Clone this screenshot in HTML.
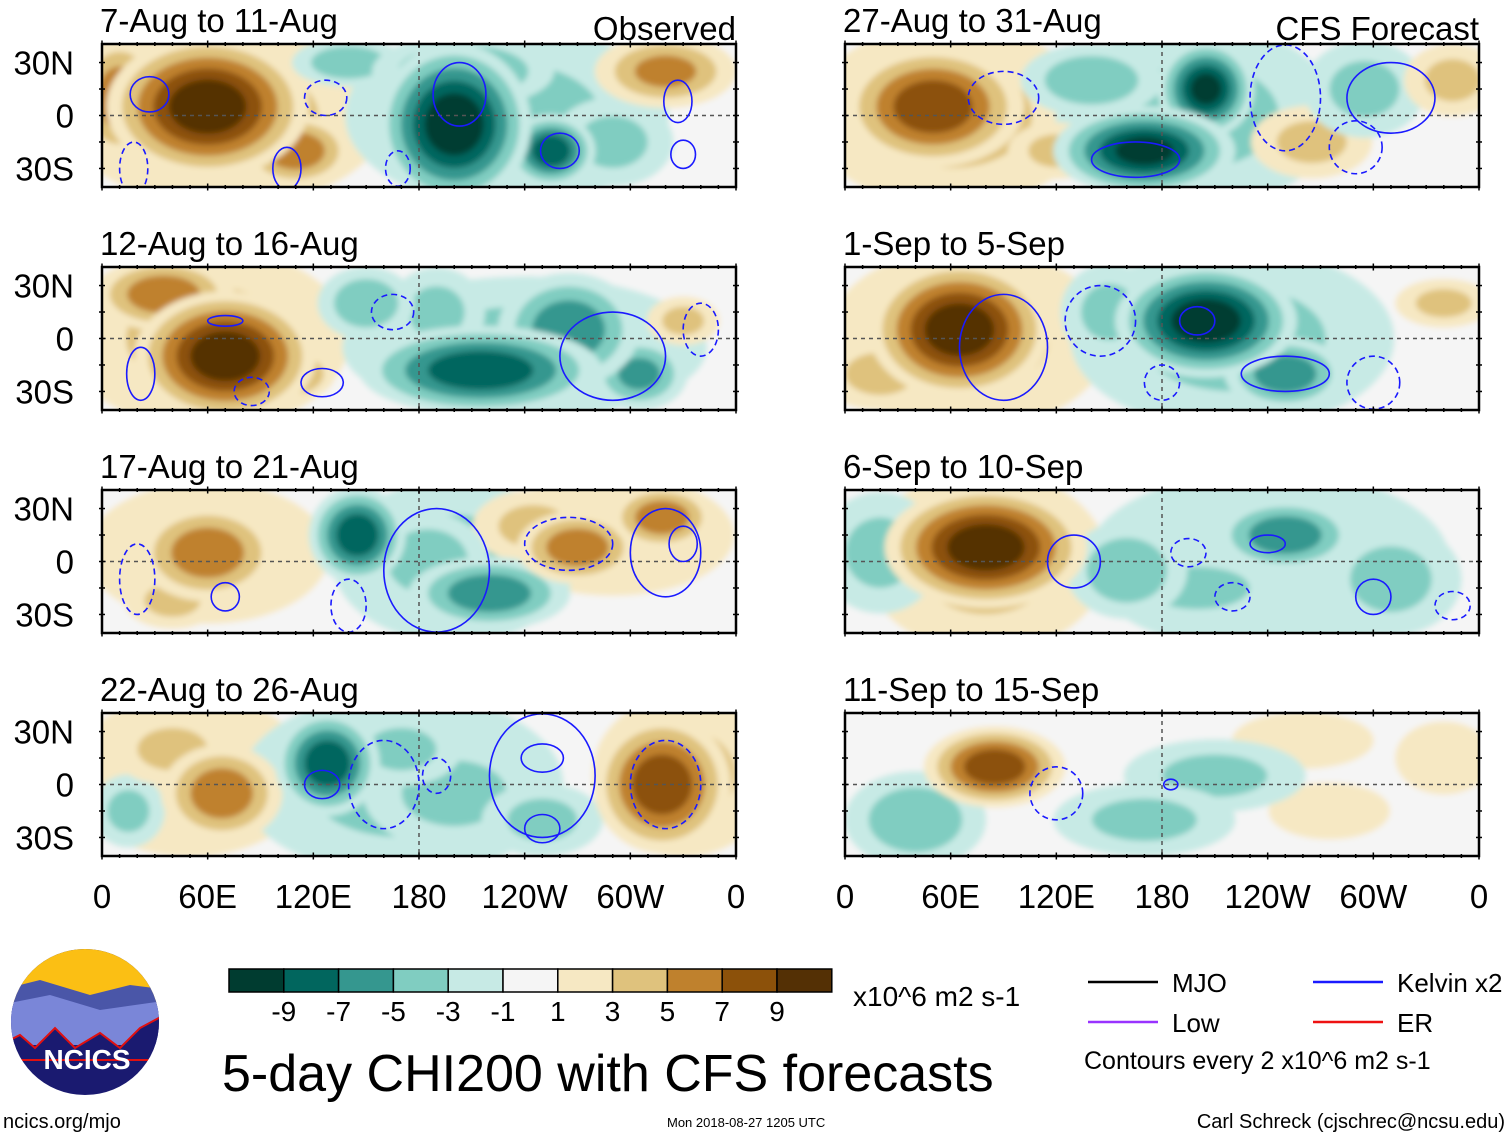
<!DOCTYPE html>
<html><head><meta charset="utf-8">
<style>
body{margin:0;background:#fff;font-family:"Liberation Sans",sans-serif}
svg text{font-family:"Liberation Sans",sans-serif}
</style></head>
<body>
<svg id="fig" width="1510" height="1137" viewBox="0 0 1510 1137" xmlns="http://www.w3.org/2000/svg">
<defs>
<filter id="blur" x="-20%" y="-20%" width="140%" height="140%"><feGaussianBlur stdDeviation="3"/></filter>
</defs>
<g id="panels"></g>
<g id="footer"></g>
</svg>
<script>
// ---- data ----
const panelTitles = ["7-Aug to 11-Aug","12-Aug to 16-Aug","17-Aug to 21-Aug","22-Aug to 26-Aug","27-Aug to 31-Aug","1-Sep to 5-Sep","6-Sep to 10-Sep","11-Sep to 15-Sep"];
// blobs per panel: [lon, lat, rxDeg, ryDeg, value]
const blobs0 = [[70,0,80,45,3],[230,0,80,45,-3],[60,5,50,35,10],[10,10,22,30,6],[110,-20,28,18,6],[200,-5,38,40,-10],[255,-20,22,18,-8],[205,25,45,18,-5],[290,-15,30,22,-3],[320,25,35,18,5],[140,30,28,12,-4]];
const blobs1 = [[60,0,70,45,3],[240,-5,90,35,-3],[70,-10,45,32,10],[35,25,35,18,6],[105,-20,24,14,6],[215,-18,60,22,-8],[265,5,35,28,-6],[150,20,24,18,-4],[190,15,24,22,-3],[330,10,18,12,3],[305,-20,24,18,-5]];
const blobs2 = [[200,0,60,40,-3],[60,5,60,35,2],[290,15,60,30,2],[145,15,24,24,-8],[220,-18,40,18,-6],[185,0,30,24,-4],[60,5,35,24,6],[270,8,30,18,6],[318,25,26,16,6],[40,-22,24,14,3],[245,20,30,18,3]];
const blobs3 = [[170,0,80,45,-3],[330,5,45,40,3],[50,5,60,40,2],[128,12,26,26,-8],[200,-5,45,28,-3],[318,0,34,34,8],[68,-5,30,24,6],[250,-20,30,18,-3],[15,-15,18,18,-3],[40,20,30,18,3],[170,20,30,18,-3]];
const blobs4 = [[60,0,70,45,3],[200,0,70,45,-3],[50,5,45,30,8],[205,15,24,24,-9],[170,-20,45,22,-9],[265,-15,30,18,3],[295,15,30,24,-3],[140,20,35,18,-4],[345,20,24,18,3],[120,-20,24,14,3]];
const blobs5 = [[70,0,70,45,3],[220,0,80,45,-3],[65,5,45,34,10],[205,10,45,28,-10],[250,-20,30,18,-6],[20,-20,30,18,3],[150,15,24,24,-3],[340,20,24,12,3]];
const blobs6 = [[80,0,60,45,3],[240,0,90,45,-2],[80,8,50,30,10],[250,15,35,18,-6],[160,-5,30,24,-4],[200,-15,45,18,-3],[310,-10,35,28,-3],[20,5,30,30,-3]];
const blobs7 = [[85,10,35,20,8],[40,-20,35,24,-4],[210,5,45,18,-3],[170,-20,45,18,-3],[275,-15,30,14,2],[340,15,24,18,2],[260,25,35,14,2]];
const allBlobs = [blobs0,blobs1,blobs2,blobs3,blobs4,blobs5,blobs6,blobs7];
// contours per panel: [lon, lat, rxDeg, ryDeg, dashed(1)/solid(0)]
const cont0 = [[27,12,11,10,0],[203,12,15,18,0],[260,-20,11,10,0],[327,8,8,12,0],[330,-22,7,8,0],[105,-30,8,12,0],[18,-30,8,15,1],[127,10,12,10,1],[168,-30,7,10,1]];
const cont1 = [[70,10,10,3,0],[22,-20,8,15,0],[290,-10,30,25,0],[165,15,12,10,1],[340,5,10,15,1],[85,-30,10,8,1],[125,-25,12,8,0]];
const cont2 = [[190,-5,30,35,0],[320,5,20,25,0],[330,10,8,10,0],[70,-20,8,8,0],[265,10,25,15,1],[140,-25,10,15,1],[20,-10,10,20,1]];
const cont3 = [[250,5,30,35,0],[250,15,12,8,0],[250,-25,10,8,0],[160,0,20,25,1],[190,5,8,10,1],[320,0,20,25,1],[125,0,10,8,0]];
const cont4 = [[310,10,25,20,0],[165,-25,25,10,0],[250,10,20,30,1],[290,-18,15,15,1],[90,10,20,15,1]];
const cont5 = [[90,-5,25,30,0],[200,10,10,8,0],[250,-20,25,10,0],[145,10,20,20,1],[300,-25,15,15,1],[180,-25,10,10,1]];
const cont6 = [[130,0,15,15,0],[240,10,10,5,0],[300,-20,10,10,0],[195,5,10,8,1],[220,-20,10,8,1],[345,-25,10,8,1]];
const cont7 = [[120,-5,15,15,1],[185,0,4,3,0]];
const allConts = [cont0,cont1,cont2,cont3,cont4,cont5,cont6,cont7];
const colors = ["#003c30","#01665e","#35978f","#80cdc1","#c7eae5","#f5f5f5","#f6e8c3","#dfc27d","#bf812d","#8c510a","#543005"];
const cbLabels = ["-9","-7","-5","-3","-1","1","3","5","7","9"];
const lonLabels = ["0","60E","120E","180","120W","60W","0"];
const latLabels = ["30N","0","30S"];

// ---- layout ----
const NS="http://www.w3.org/2000/svg";
const colX=[102,845], PW=634, rowY=[44,267,490,713], PH=143;
function el(tag,attrs,parent){const e=document.createElementNS(NS,tag);for(const k in attrs)e.setAttribute(k,attrs[k]);parent.appendChild(e);return e;}
const panelsG=document.getElementById('panels');
allBlobs.forEach((bl,i)=>{
  const x0=colX[Math.floor(i/4)], y0=rowY[i%4];
  const lonX=l=>x0+l/360*PW, latY=la=>y0+PH/2-la/81*PH;
  const sx=PW/360*1.15, sy=PH/81*1.15;
  const g=el('g',{},panelsG);
  
  
  const cp=el('clipPath',{id:'cp'+i},g);
  el('rect',{x:x0,y:y0,width:PW,height:PH},cp);
  const inner=el('g',{'clip-path':'url(#cp'+i+')'},g);
  el('rect',{x:x0,y:y0,width:PW,height:PH,fill:'#f5f5f5'},inner);
  const f=el('g',{filter:'url(#blur)'},inner);
  el('rect',{x:x0-20,y:y0-20,width:PW+40,height:PH+40,fill:'#f5f5f5'},f);
  const sorted=bl.slice().sort((a,b)=>Math.abs(a[4])-Math.abs(b[4]));
  sorted.forEach(b=>{
    const v=b[4], a=Math.abs(v), s=Math.sign(v);
    [1,3,5,7,9].forEach((t,k)=>{
      if(a<t) return;
      const fac=1-0.85*(t-1)/(a+1);
      const ci=5+s*(k+1);
      const e=el('ellipse',{cx:lonX(b[0]),cy:latY(b[1]),rx:b[2]*sx*fac,ry:b[3]*sy*fac,fill:colors[ci]},f);
      
      
    });
  });
  el('line',{x1:x0,x2:x0+PW,y1:latY(0),y2:latY(0),stroke:'#555','stroke-dasharray':'4,4','stroke-width':1.5},inner);
  el('line',{x1:lonX(180),x2:lonX(180),y1:y0,y2:y0+PH,stroke:'#555','stroke-dasharray':'4,4','stroke-width':1.5},inner);
  allConts[i].forEach(c=>{
    const e=el('ellipse',{cx:lonX(c[0]),cy:latY(c[1]),rx:c[2]*PW/360,ry:c[3]*PH/81,fill:'none',stroke:'#1a1aff','stroke-width':1.6},inner);
    if(c[4]) e.setAttribute('stroke-dasharray','6,4');
    
    
  });
  el('rect',{x:x0,y:y0,width:PW,height:PH,fill:'none',stroke:'#000','stroke-width':2.5},g);
  for(let l=0;l<=360;l+=10){const L=l%60==0?7:4;
    el('line',{x1:lonX(l),x2:lonX(l),y1:y0-L/2,y2:y0+L/2,stroke:'#000','stroke-width':1.5},g);
    el('line',{x1:lonX(l),x2:lonX(l),y1:y0+PH-L/2,y2:y0+PH+L/2,stroke:'#000','stroke-width':1.5},g);}
  [-30,-15,0,15,30].forEach(la=>{
    el('line',{x1:x0-3,x2:x0+3,y1:latY(la),y2:latY(la),stroke:'#000','stroke-width':1.5},g);
    el('line',{x1:x0+PW-3,x2:x0+PW+3,y1:latY(la),y2:latY(la),stroke:'#000','stroke-width':1.5},g);});
  const t=el('text',{x:x0-2,y:y0-12,'font-size':33},g);t.textContent=panelTitles[i];
  
  if(i==0||i==4){const tt=el('text',{x:x0+PW,y:y0-4,'font-size':33,'text-anchor':'end'},g);tt.textContent=i==0?'Observed':'CFS Forecast';
    }
  if(i<4){[30,0,-30].forEach((la,k)=>{const lt=el('text',{x:74,y:latY(la)+12,'font-size':33,'text-anchor':'end'},g);lt.textContent=latLabels[k];
    });}
  if(i%4==3){lonLabels.forEach((lb,k)=>{const lt=el('text',{x:lonX(k*60),y:908,'font-size':33,'text-anchor':'middle'},g);lt.textContent=lb;
    });}
});
// footer
const F=document.getElementById('footer');
const cbw=54.8;
colors.forEach((c,k)=>{const r=el('rect',{x:229+k*cbw,y:969,width:cbw,height:23,fill:c,stroke:'#000','stroke-width':1.5},F);
  });
cbLabels.forEach((lb,k)=>{const t=el('text',{x:229+(k+1)*cbw,y:1021,'font-size':28,'text-anchor':'middle'},F);t.textContent=lb;
  });
function txt(x,y,s,str,name,anchor){const t=el('text',{x:x,y:y,'font-size':s,'text-anchor':anchor||'start'},F);t.textContent=str;
  return t;}
txt(853,1006,28,'x10^6 m2 s-1','colorbar-units');
txt(222,1091,52,'5-day CHI200 with CFS forecasts','main-title');
txt(1084,1069,25,'Contours every 2 x10^6 m2 s-1','contour-note');
txt(3,1128,20,'ncics.org/mjo','site-link');
txt(667,1127,13,'Mon 2018-08-27 1205 UTC','timestamp');
txt(1505,1128,20,'Carl Schreck (cjschrec@ncsu.edu)','author-credit','end');
[[1088,982,'#000','MJO'],[1313,982,'#1a1aff','Kelvin x2'],[1088,1022,'#9933ff','Low'],[1313,1022,'#ee1111','ER']].forEach(l=>{
  el('line',{x1:l[0],x2:l[0]+70,y1:l[1],y2:l[1],stroke:l[2],'stroke-width':2.5},F);
  txt(l[0]+84,l[1]+10,26,l[3],'legend-entry');});
// logo
const lg=el('g',{},F);
const lc=el('clipPath',{id:'logoclip'},lg);el('ellipse',{cx:85,cy:1022,rx:74,ry:73},lc);
const li=el('g',{'clip-path':'url(#logoclip)'},lg);
el('rect',{x:0,y:945,width:170,height:160,fill:'#1a1a70'},li);
el('rect',{x:0,y:945,width:170,height:60,fill:'#fbbf14'},li);
el('polygon',{points:'0,990 40,980 90,995 130,985 170,990 170,1015 0,1015',fill:'#4a56a8'},li);
el('polygon',{points:'0,1005 50,995 100,1010 170,1000 170,1045 0,1045',fill:'#7a86d8'},li);
el('polygon',{points:'0,1045 20,1035 35,1048 55,1028 75,1048 100,1033 120,1048 140,1028 170,1012 170,1060 0,1060',fill:'#1a1a70',stroke:'#e01010','stroke-width':2},li);
const lt=el('text',{x:87,y:1069,'font-size':28,'font-weight':'bold',fill:'#fff','text-anchor':'middle'},lg);lt.textContent='NCICS';
</script>
</body></html>
